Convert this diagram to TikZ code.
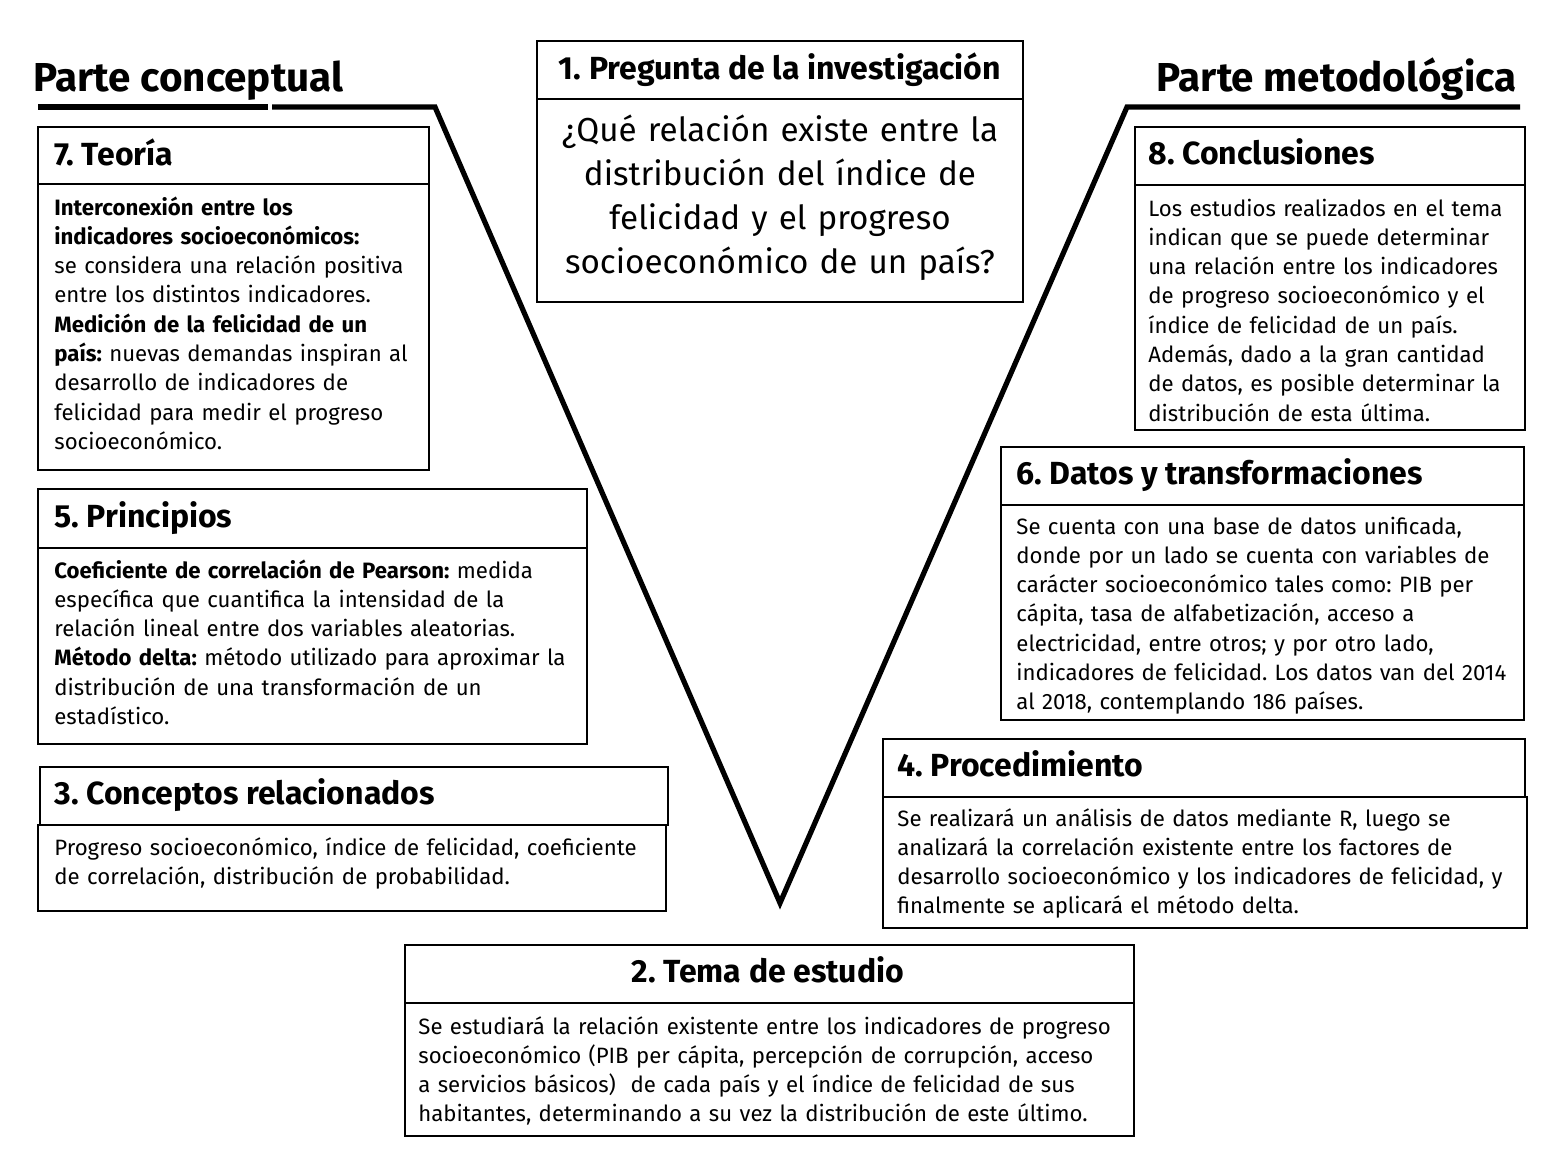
\documentclass[tikz,border=0pt]{standalone}
\usepackage{fontspec}
\setmainfont{Fira Sans}
\frenchspacing
\begin{document}
\begin{tikzpicture}[x=0.5pt,y=-0.5pt,
  frame/.style={draw=black,line width=0.8pt},
  vline/.style={draw=black,line width=2.6pt,line join=miter,line cap=butt},
  bigtitle/.style={inner sep=0pt,font=\bfseries\fontsize{20.2}{24}\selectfont},
  hdr/.style={inner sep=0pt,font=\bfseries\fontsize{16}{18}\selectfont},
  bodytext/.style={inner sep=0pt,align=left,text width=380pt,font=\fontsize{11.1}{14.65}\selectfont},
]
\useasboundingbox (0,0) rectangle (1560,1152);
% titles and V
\node[bigtitle,anchor=base west] (tl) at (33,91) {Parte conceptual};
\node[bigtitle,anchor=base east] (tr) at (1517,91) {Parte metodológica};
\coordinate (l0) at (38,107);
\coordinate (l1) at (268,107);
\coordinate (l2) at (272,107);
\coordinate (vl) at (435,107);
\coordinate (vb) at (780,903);
\coordinate (vr) at (1127,107);
\coordinate (r0) at (1520,107);
\draw[vline] (l0) -- (l1);
\draw[vline] (l2) -- (vl) -- (vb) -- (vr) -- (r0);

% Box 1
\draw[frame] (537,41) rectangle (1023,99);
\draw[frame] (537,99) rectangle (1023,302);
\node[hdr,anchor=base] (h1) at (780,79) {1. Pregunta de la investigación};
\node[inner sep=0pt,anchor=base,align=center,text width=240pt,font=\fontsize{16.6}{22}\selectfont] (b1) at (780,141)
{¿Qué relación existe entre la\\ distribución del índice de\\ felicidad y el progreso\\ socioeconómico de un país?};

% Box 7
\draw[frame] (38,127) rectangle (429,184);
\draw[frame] (38,184) rectangle (429,470);
\node[hdr,anchor=base west] (h7) at (54,165) {7. Teoría};
\node[bodytext,anchor=base west] (b7) at (54,215)
{\textbf{Interconexión entre los}\\
\textbf{indicadores socioeconómicos:}\\
se considera una relación positiva\\
entre los distintos indicadores.\\
\textbf{Medición de la felicidad de un}\\
\textbf{país:} nuevas demandas inspiran al\\
desarrollo de indicadores de\\
felicidad para medir el progreso\\
socioeconómico.};

% Box 5
\draw[frame] (38,489) rectangle (587,548);
\draw[frame] (38,548) rectangle (587,744);
\node[hdr,anchor=base west] (h5) at (54,527) {5. Principios};
\node[bodytext,anchor=base west] (b5) at (54,578)
{\textbf{Coeficiente de correlación de Pearson:} medida\\
específica que cuantifica la intensidad de la\\
relación lineal entre dos variables aleatorias.\\
\textbf{Método delta:} método utilizado para aproximar la\\
distribución de una transformación de un\\
estadístico.};

% Box 3
\draw[frame] (40,767) rectangle (668,825);
\draw[frame] (38,825) rectangle (666,911);
\node[hdr,anchor=base west] (h3) at (54,804) {3. Conceptos relacionados};
\node[bodytext,anchor=base west] (b3) at (54,855)
{Progreso socioeconómico, índice de felicidad, coeficiente\\
de correlación, distribución de probabilidad.};

% Box 8
\draw[frame] (1135,127) rectangle (1525,185);
\draw[frame] (1135,185) rectangle (1525,430);
\node[hdr,anchor=base west] (h8) at (1148,164) {8. Conclusiones};
\node[bodytext,anchor=base west] (b8) at (1148,216)
{Los estudios realizados en el tema\\
indican que se puede determinar\\
una relación entre los indicadores\\
de progreso socioeconómico y el\\
índice de felicidad de un país.\\
Además, dado a la gran cantidad\\
de datos, es posible determinar la\\
distribución de esta última.};

% Box 6
\draw[frame] (1001,447) rectangle (1524,505);
\node[hdr,anchor=base west] (h6) at (1016,484) {6. Datos y transformaciones};
\begin{scope}
\clip (1001,505) rectangle (1524,716);
\node[bodytext,anchor=base west] (b6) at (1016,534)
{Se cuenta con una base de datos unificada,\\
donde por un lado se cuenta con variables de\\
carácter socioeconómico tales como: PIB per\\
cápita, tasa de alfabetización, acceso a\\
electricidad, entre otros; y por otro lado,\\
indicadores de felicidad. Los datos van del 2014\\
al 2018, contemplando 186 países.};
\end{scope}
\draw[frame] (1001,505) rectangle (1524,720);

% Box 4
\draw[frame] (883,739) rectangle (1525,797);
\draw[frame] (883,797) rectangle (1527,928);
\node[hdr,anchor=base west] (h4) at (897,776) {4. Procedimiento};
\node[bodytext,anchor=base west] (b4) at (897,826)
{Se realizará un análisis de datos mediante R, luego se\\
analizará la correlación existente entre los factores de\\
desarrollo socioeconómico y los indicadores de felicidad, y\\
finalmente se aplicará el método delta.};

% Box 2
\draw[frame] (405,945) rectangle (1134,1003);
\draw[frame] (405,1003) rectangle (1134,1136);
\node[hdr,anchor=base] (h2) at (768,982) {2. Tema de estudio};
\node[bodytext,anchor=base west] (b2) at (418,1034)
{Se estudiará la relación existente entre los indicadores de progreso\\
socioeconómico (PIB per cápita, percepción de corrupción, acceso\\
a servicios básicos)\ \ de cada país y el índice de felicidad de sus\\
habitantes, determinando a su vez la distribución de este último.};
\end{tikzpicture}
\end{document}
